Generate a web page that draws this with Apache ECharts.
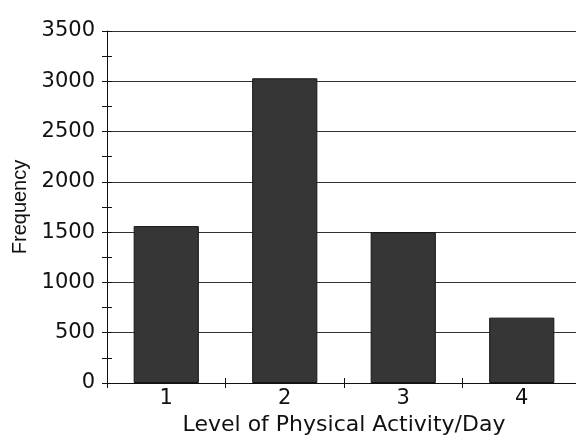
<!DOCTYPE html>
<html>
<head>
<meta charset="utf-8">
<script src="https://cdn.jsdelivr.net/npm/echarts@6/dist/echarts.min.js"></script>
<style>
  html, body { margin: 0; padding: 0; background: #fff; }
  #chart { width: 576px; height: 437px; }
</style>
</head>
<body>
<div id="chart"></div>
<script>
  // data
  const categories = ['1', '2', '3', '4'];
  const frequency = [1560, 3030, 1500, 650];
  const yMax = 3500;
  const yStep = 500;

  // the scan is a bit wide, so the wider DejaVu fits the horizontal text better
  const wideFont = '"DejaVu Sans", sans-serif';
  const font = '"Liberation Sans", Arial, sans-serif';
  const chart = echarts.init(document.getElementById('chart'));

  chart.setOption({
    animation: false,
    grid: { left: 107, right: -5, top: 31, bottom: 54, outerBoundsMode: 'none' },
    xAxis: [
      {
        type: 'category',
        data: categories,
        name: 'Level of Physical Activity/Day',
        nameLocation: 'middle',
        nameGap: 29,
        nameTextStyle: { fontFamily: wideFont, fontSize: 22, color: '#111' },
        axisLine: { lineStyle: { color: '#111', width: 1 } },
        axisTick: { show: true, length: 5, lineStyle: { color: '#111' } },
        axisLabel: { fontFamily: wideFont, fontSize: 21, color: '#111', margin: 5 },
        splitLine: { show: false }
      },
      {
        // inside half of the boundary ticks
        type: 'category',
        data: categories,
        position: 'bottom',
        axisLine: { show: false },
        axisTick: { show: true, inside: true, length: 5, lineStyle: { color: '#111' } },
        axisLabel: { show: false },
        splitLine: { show: false }
      }
    ],
    yAxis: [
      {
        type: 'value',
        min: 0,
        max: yMax,
        interval: yStep,
        name: 'Frequency',
        nameLocation: 'middle',
        nameGap: 77,
        nameTextStyle: { fontFamily: font, fontSize: 20, color: '#111' },
        axisLine: { show: true, lineStyle: { color: '#111', width: 1 } },
        axisTick: { show: true, length: 5, lineStyle: { color: '#111' } },
        minorTick: { show: true, splitNumber: 2, length: 5, lineStyle: { color: '#111' } },
        axisLabel: {
          fontFamily: wideFont, fontSize: 21, color: '#111', margin: 12,
          padding: [0, 0, 10, 0], // labels sit a little above their lines
          formatter: function (v) { return String(v); }
        },
        splitLine: { show: true, lineStyle: { color: '#333', width: 1 } }
      },
      {
        // inside half of the minor ticks
        type: 'value',
        min: 0,
        max: yMax,
        interval: yStep / 2,
        position: 'left',
        axisLine: { show: false },
        axisTick: { show: true, inside: true, length: 5, lineStyle: { color: '#111' } },
        axisLabel: { show: false },
        splitLine: { show: false }
      }
    ],
    series: [
      {
        type: 'bar',
        data: frequency,
        barWidth: '55%',
        itemStyle: { color: '#363636', borderColor: '#151515', borderWidth: 1 }
      }
    ]
  });
</script>
</body>
</html>
